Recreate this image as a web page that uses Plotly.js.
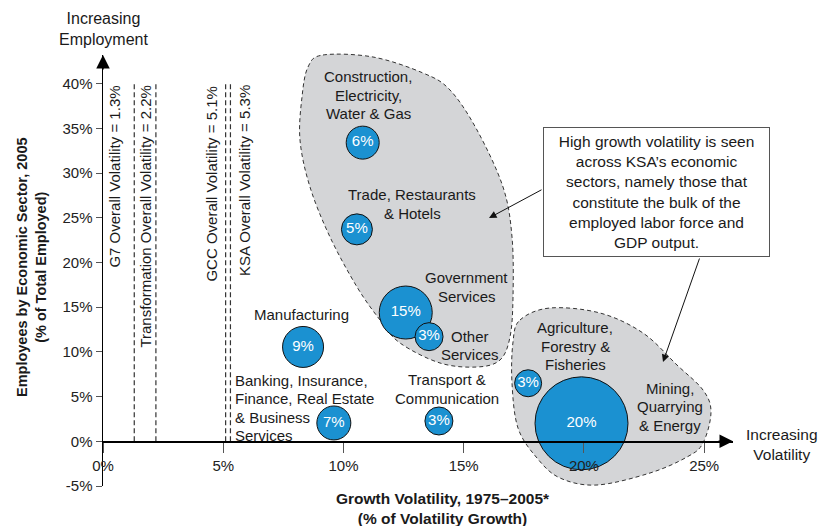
<!DOCTYPE html>
<html>
<head>
<meta charset="utf-8">
<script src="https://cdn.plot.ly/plotly-3.0.1.min.js"></script>
<style>html,body{margin:0;padding:0;background:#fff;}#chart{width:819px;height:526px;}</style>
</head>
<body>
<div id="chart"></div>
<script>
// ---------------- DATA ----------------
var sectors = [
  'Construction,<br>Electricity,<br>Water & Gas',
  'Trade, Restaurants<br>& Hotels',
  'Government<br>Services',
  'Other<br>Services',
  'Manufacturing',
  'Banking, Insurance,<br>Finance, Real Estate<br>& Business<br>Services',
  'Transport &<br>Communication',
  'Agriculture,<br>Forestry &<br>Fisheries',
  'Mining,<br>Quarrying<br>& Energy'
];
var volatility = [10.8, 10.56, 12.59, 13.56, 8.32, 9.60, 13.97, 17.68, 19.90];   // x, %
var employment = [33.4, 23.7, 14.4, 11.7, 10.55, 2.05, 2.27, 6.49, 2.01];        // y, %
var gdpShare   = [6, 5, 15, 3, 9, 7, 3, 3, 20];                                    // bubble label, %

var benchNames  = ['G7', 'Transformation', 'GCC', 'KSA'];
var benchValues = [1.3, 2.2, 5.1, 5.3];

var xTickVals = [0, 5, 10, 15, 20, 25];
var yTickVals = [-5, 0, 5, 10, 15, 20, 25, 30, 35, 40];

// ---------------- STYLE / LAYOUT HELPERS ----------------
var bubbleDiam = [33, 31, 53, 28, 41, 34, 28, 27, 93];
var FONT = 'Liberation Sans, Arial, Helvetica, sans-serif';
var FS = 15;
var W = 819, H = 526, L = 103, R = 733, T = 55, B = 486;
function px(xp){ return (xp - L) / (R - L); }        // pixel -> paper x
function py(yp){ return (B - yp) / (B - T); }        // pixel -> paper y
var xRange = [0, 26.2], yRange = [-5, 43.2];
var xAxisPos = (0 - yRange[0]) / (yRange[1] - yRange[0]);

function smoothPath(pts){
  var n = pts.length, P = pts.map(function(p){ return [px(p[0]), py(p[1])]; });
  var d = 'M' + P[0][0] + ',' + P[0][1];
  for (var i = 0; i < n; i++){
    var p0 = P[(i - 1 + n) % n], p1 = P[i], p2 = P[(i + 1) % n], p3 = P[(i + 2) % n];
    var c1 = [p1[0] + (p2[0] - p0[0]) / 6, p1[1] + (p2[1] - p0[1]) / 6];
    var c2 = [p2[0] - (p3[0] - p1[0]) / 6, p2[1] - (p3[1] - p1[1]) / 6];
    d += ' C' + c1[0] + ',' + c1[1] + ' ' + c2[0] + ',' + c2[1] + ' ' + p2[0] + ',' + p2[1];
  }
  return d + ' Z';
}
var blob1 = [[323,55],[373,57],[423,73],[450,90],[477,130],[503,187],[512,237],[513,297],[510,337],[500,360],[477,367],[440,363],[400,343],[380,320],[357,287],[330,237],[310,187],[300,140],[302,97],[308,67]];
var blob2 = [[520,320],[550,308],[600,313],[643,333],[677,365],[703,390],[711,412],[703,443],[687,457],[650,473],[597,485],[560,478],[537,458],[518,428],[512,383],[513,342]];

var blobStyle = {fillcolor:'#d4d5d7', line:{color:'#333', width:1, dash:'4px,3px'}, layer:'below', xref:'paper', yref:'paper', type:'path'};
var shapes = [
  Object.assign({path: smoothPath(blob1)}, blobStyle),
  Object.assign({path: smoothPath(blob2)}, blobStyle)
];
benchValues.forEach(function(v){
  shapes.push({type:'line', xref:'x', yref:'y', x0:v, x1:v, y0:0, y1:40,
               line:{color:'#333', width:1.2, dash:'5px,3px'}, layer:'below'});
});

// label positions (pixel centres) for sector labels; each line placed separately (18px leading)
var labelPos = [[368,95,'center'],[412,204,'center'],[467,287,'center'],[470,345.5,'center'],[301,314,'center'],
                [233,408,'left'],[447,389,'center'],[575,346,'center'],[670,406.5,'center']];
var LEAD = 18.5;
var annotations = [];
sectors.forEach(function(s, i){
  var p = labelPos[i], lines = s.split('<br>'), n = lines.length;
  lines.forEach(function(t, k){
    annotations.push({xref:'paper', yref:'paper', x:px(p[0]), y:py(p[1] + (k - (n - 1) / 2) * LEAD), text:t, showarrow:false,
      xanchor:p[2], yanchor:'middle', align:p[2], font:{family:FONT, size:FS, color:'#1a1a1a'}});
  });
});
var benchLabelX = [115, 146, 212, 244];
benchNames.forEach(function(n, i){
  annotations.push({xref:'paper', yref:'y', x:px(benchLabelX[i]), y:40, yanchor:'top', xanchor:'center',
    text: n + ' Overall Volatility = ' + benchValues[i] + '%', textangle:-90, showarrow:false,
    font:{family:FONT, size:15, color:'#1a1a1a'}});
});
// axis end labels
annotations.push({xref:'paper', yref:'paper', x:px(103), y:py(29), text:'Increasing<br>Employment', showarrow:false,
  xanchor:'center', yanchor:'middle', font:{family:FONT, size:16, color:'#1a1a1a'}});
annotations.push({xref:'paper', yref:'paper', x:px(782), y:py(444), text:'Increasing<br>Volatility', showarrow:false,
  xanchor:'center', yanchor:'middle', font:{family:FONT, size:15.5, color:'#1a1a1a'}});
// axis titles
annotations.push({xref:'paper', yref:'paper', x:px(443), y:py(508), text:'<b>Growth Volatility, 1975–2005*<br>(% of Volatility Growth)</b>',
  showarrow:false, xanchor:'center', yanchor:'middle', font:{family:FONT, size:15.5, color:'#1a1a1a'}});
annotations.push({xref:'paper', yref:'paper', x:px(31), y:py(267), text:'<b>Employees by Economic Sector, 2005<br>(% of Total Employed)</b>',
  showarrow:false, textangle:-90, xanchor:'center', yanchor:'middle', font:{family:FONT, size:14.5, color:'#1a1a1a'}});
// axis arrowheads
annotations.push({xref:'paper', yref:'paper', x:0, y:1, ax:0, ay:16, text:'', showarrow:true,
  arrowhead:2, arrowsize:1.8, arrowwidth:1.5, arrowcolor:'#000'});
annotations.push({xref:'paper', yref:'paper', x:1, y:xAxisPos, ax:-16, ay:0, text:'', showarrow:true,
  arrowhead:2, arrowsize:1.8, arrowwidth:1.5, arrowcolor:'#000'});
// callout box
annotations.push({xref:'paper', yref:'paper', x:px(656.5), y:py(192), xanchor:'center', yanchor:'middle',
  text:'High growth volatility is seen<br>across KSA’s economic<br>sectors, namely those that<br>constitute the bulk of the<br>employed labor force and<br>GDP output.',
  showarrow:false, width:223, height:126, borderpad:1, bordercolor:'#555', borderwidth:1, bgcolor:'#fff',
  font:{family:FONT, size:15.5, color:'#1a1a1a'}});
annotations.push({xref:'paper', yref:'paper', x:px(489), y:py(218), ax:54, ay:-29, text:'', showarrow:true,
  arrowhead:2, arrowsize:1.5, arrowwidth:1, arrowcolor:'#111'});
annotations.push({xref:'paper', yref:'paper', x:px(663), y:py(362), ax:37, ay:-105, text:'', showarrow:true,
  arrowhead:2, arrowsize:1.5, arrowwidth:1, arrowcolor:'#111'});

var trace = {
  type:'scatter', mode:'markers+text', x:volatility, y:employment,
  text: gdpShare.map(function(v){ return v + '%'; }), textposition:'middle center',
  textfont:{family:FONT, size:15, color:'#fff'},
  marker:{size:bubbleDiam, sizemode:'diameter', color:'#1b91d1', opacity:1, line:{color:'#111', width:1}},
  hoverinfo:'skip', cliponaxis:false
};

var layout = {
  width:W, height:H, margin:{l:L, r:W - R, t:T, b:H - B, pad:0},
  paper_bgcolor:'#fff', plot_bgcolor:'rgba(0,0,0,0)', showlegend:false,
  font:{family:FONT, size:FS, color:'#222'},
  xaxis:{range:xRange, anchor:'free', position:xAxisPos, showline:true, linecolor:'#000', linewidth:1.5,
    showgrid:false, zeroline:false, ticks:'outside', ticklen:10, tickwidth:1, tickcolor:'#555',
    tickvals:xTickVals, ticktext:xTickVals.map(function(v){return v + '%';}),
    tickfont:{family:FONT, size:15, color:'#222'}, fixedrange:true},
  yaxis:{range:yRange, showline:true, linecolor:'#000', linewidth:1.5, showgrid:false, zeroline:false,
    ticks:'outside', ticklen:6, tickwidth:1, tickcolor:'#555',
    tickvals:yTickVals, ticktext:yTickVals.map(function(v){return v + '%';}),
    tickfont:{family:FONT, size:15, color:'#222'}, fixedrange:true},
  shapes:shapes, annotations:annotations
};
Plotly.newPlot('chart', [trace], layout, {staticPlot:true, displayModeBar:false});
</script>
</body>
</html>
